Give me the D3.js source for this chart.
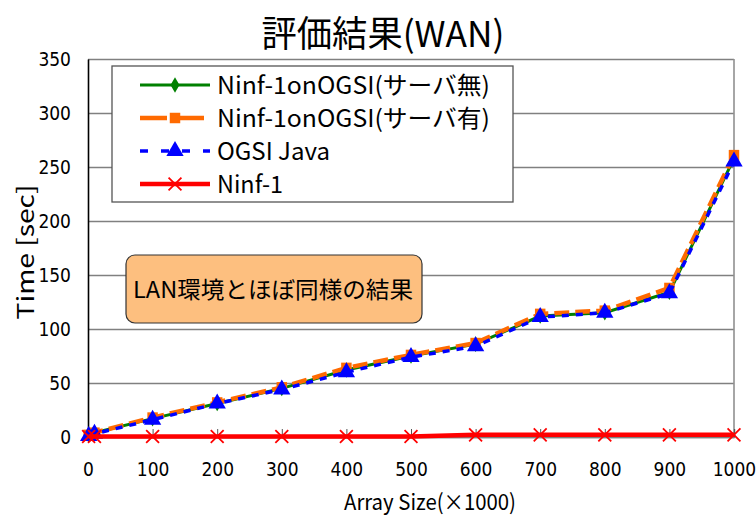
<!DOCTYPE html>
<html>
<head>
<meta charset="utf-8">
<script src="https://cdn.jsdelivr.net/npm/d3@7.9.0/dist/d3.min.js"></script>
<style>
  body { margin: 0; background: #fff; }
  svg { display: block; font-family: "Noto Sans CJK JP", "Noto Sans", sans-serif; }
  .tick text { font-family: "DejaVu Sans Condensed", "Liberation Sans Narrow", "Noto Sans CJK JP", sans-serif; }
</style>
</head>
<body>
<div id="chart"></div>
<script>
// data
const arraySizes = [1, 10, 100, 200, 300, 400, 500, 600, 700, 800, 900, 1000];
const ninfOnOgsiNoServer = [2, 4, 17, 31, 45, 62, 75, 86, 112, 115, 134, 258];
const ninfOnOgsiServer = [2, 4, 18, 32, 46, 64, 76, 87, 114, 117, 138, 261];
const ogsiJava = [1, 3, 16, 31, 44, 60, 74, 84, 111, 115, 133, 255];
const ninf1 = [0.5, 0.5, 0.5, 0.5, 0.5, 0.5, 0.5, 2, 2, 2, 2, 2];
const seriesNames = ['Ninf-1onOGSI(サーバ無)', 'Ninf-1onOGSI(サーバ有)', 'OGSI Java', 'Ninf-1'];
const xTicks = [0, 100, 200, 300, 400, 500, 600, 700, 800, 900, 1000];
const yTicks = [0, 50, 100, 150, 200, 250, 300, 350];

const width = 756;
const height = 522;

const svg = d3.select('#chart')
    .append('svg')
    .attr('width', width)
    .attr('height', height);

const margin = { top: 59, right: 22, bottom: 85, left: 88 };
const usableArea = {
    top: margin.top,
    right: width - margin.right,
    bottom: height - margin.bottom,
    left: margin.left
};

const xScale = d3.scaleLinear().domain([0, 1000]).range([usableArea.left, usableArea.right]);
const yScale = d3.scaleLinear().domain([0, 350]).range([usableArea.bottom, usableArea.top]);

// title
svg.append('text')
    .attr('x', 383)
    .attr('y', 47)
    .attr('text-anchor', 'middle')
    .attr('font-size', 36)
    .attr('textLength', 243)
    .attr('lengthAdjust', 'spacingAndGlyphs')
    .attr('fill', '#000')
    .text('評価結果(WAN)');

// gridlines
const gridlines = svg.append('g')
    .attr('class', 'gridlines')
    .attr('transform', `translate(${usableArea.left}, 0)`);
gridlines.call(d3.axisLeft(yScale).tickValues(yTicks).tickFormat('').tickSize(-(usableArea.right - usableArea.left)));
gridlines.selectAll('line').attr('stroke', '#808080').attr('stroke-width', 1.6);
gridlines.select('.domain').remove();

// right border
svg.append('line')
    .attr('x1', usableArea.right).attr('x2', usableArea.right)
    .attr('y1', usableArea.top).attr('y2', usableArea.bottom)
    .attr('stroke', '#909090').attr('stroke-width', 1.6);

// x axis (ticks point inward)
const xAxisG = svg.append('g')
    .attr('class', 'x-axis')
    .attr('transform', `translate(0, ${usableArea.bottom})`)
    .call(d3.axisTop(xScale).tickValues(xTicks).tickSize(8).tickFormat(d3.format('d')));
xAxisG.select('.domain').attr('stroke', '#808080').attr('stroke-width', 1.6);
xAxisG.selectAll('.tick line').attr('stroke', '#555');
xAxisG.selectAll('.tick text')
    .attr('y', 33)
    .attr('dy', '0.32em')
    .attr('font-size', 19)
    .attr('fill', '#000');

// y axis
const yAxisG = svg.append('g')
    .attr('class', 'y-axis')
    .attr('transform', `translate(${usableArea.left}, 0)`)
    .call(d3.axisLeft(yScale).tickValues(yTicks).tickSize(0).tickPadding(17));
yAxisG.select('.domain').attr('stroke', '#000').attr('stroke-width', 1.6);
yAxisG.selectAll('.tick text').attr('font-size', 19).attr('fill', '#000');

// axis titles
svg.append('text')
    .attr('x', 430)
    .attr('y', 510)
    .attr('text-anchor', 'middle')
    .attr('font-size', 22)
    .attr('textLength', 172)
    .attr('lengthAdjust', 'spacingAndGlyphs')
    .attr('fill', '#000')
    .text('Array Size(×1000)');

svg.append('text')
    .attr('transform', 'rotate(-90)')
    .attr('x', -252)
    .attr('y', 34)
    .attr('text-anchor', 'middle')
    .attr('font-size', 23)
    .attr('textLength', 135)
    .attr('lengthAdjust', 'spacingAndGlyphs')
    .attr('fill', '#000')
    .text('Time [sec]');

// series
const styles = [
    { values: ninfOnOgsiNoServer, color: '#008000', width: 3, dash: null, marker: 'diamond', textLen: 273 },
    { values: ninfOnOgsiServer, color: '#ff6a00', width: 4.5, dash: '15,6', marker: 'square', textLen: 273 },
    { values: ogsiJava, color: '#0000ff', width: 3.5, dash: '7,7', marker: 'triangle', textLen: 113 },
    { values: ninf1, color: '#ff0000', width: 4.5, dash: null, marker: 'cross', textLen: 66 }
];

const line = d3.line()
    .x(d => xScale(d.x))
    .y(d => yScale(d.y));

const symbolFor = {
    diamond: d3.symbol().type(d3.symbolDiamond).size(70),
    square: d3.symbol().type(d3.symbolSquare).size(110),
    triangle: d3.symbol().type(d3.symbolTriangle).size(130),
    cross: d3.symbol().type(d3.symbolX).size(110)
};

styles.forEach(s => {
    const pts = arraySizes.map((x, i) => ({ x: x, y: s.values[i] }));
    const g = svg.append('g');
    g.append('path')
        .datum(pts)
        .attr('fill', 'none')
        .attr('stroke', s.color)
        .attr('stroke-width', s.width)
        .attr('stroke-dasharray', s.dash)
        .attr('d', line);
    g.selectAll('path.marker')
        .data(pts)
        .enter()
        .append('path')
        .attr('class', 'marker')
        .attr('transform', d => `translate(${xScale(d.x)}, ${yScale(d.y)})`)
        .attr('d', symbolFor[s.marker])
        .attr('fill', s.marker === 'cross' ? 'none' : s.color)
        .attr('stroke', s.marker === 'cross' ? s.color : 'none')
        .attr('stroke-width', 1.8);
});

// legend
const legend = svg.append('g').attr('class', 'legend');
legend.append('rect')
    .attr('x', 112).attr('y', 66)
    .attr('width', 401).attr('height', 136)
    .attr('fill', '#fff')
    .attr('stroke', '#555')
    .attr('stroke-width', 1.3);

styles.forEach((s, i) => {
    const y = 85 + i * 33;
    const row = legend.append('g');
    row.append('line')
        .attr('x1', 140).attr('x2', 210)
        .attr('y1', y).attr('y2', y)
        .attr('stroke', s.color)
        .attr('stroke-width', s.width)
        .attr('stroke-dasharray', s.marker === 'square' ? '27,10' : s.marker === 'triangle' ? '8,13' : null);
    row.append('path')
        .attr('transform', `translate(175, ${y})`)
        .attr('d', symbolFor[s.marker])
        .attr('fill', s.marker === 'cross' ? 'none' : s.color)
        .attr('stroke', s.marker === 'cross' ? s.color : 'none')
        .attr('stroke-width', 1.8);
    row.append('text')
        .attr('x', 217)
        .attr('y', y)
        .attr('dy', '0.36em')
        .attr('font-size', 24)
        .attr('textLength', s.textLen)
        .attr('lengthAdjust', 'spacingAndGlyphs')
        .attr('fill', '#000')
        .text(seriesNames[i]);
});

// annotation
svg.append('rect')
    .attr('x', 126).attr('y', 255)
    .attr('width', 296).attr('height', 68)
    .attr('rx', 9).attr('ry', 9)
    .attr('fill', '#fdbf7f')
    .attr('stroke', '#333')
    .attr('stroke-width', 1.2);
svg.append('text')
    .attr('x', 273)
    .attr('y', 290)
    .attr('dy', '0.36em')
    .attr('text-anchor', 'middle')
    .attr('font-size', 23)
    .attr('textLength', 280)
    .attr('lengthAdjust', 'spacingAndGlyphs')
    .attr('fill', '#000')
    .text('LAN環境とほぼ同様の結果');
</script>
</body>
</html>
